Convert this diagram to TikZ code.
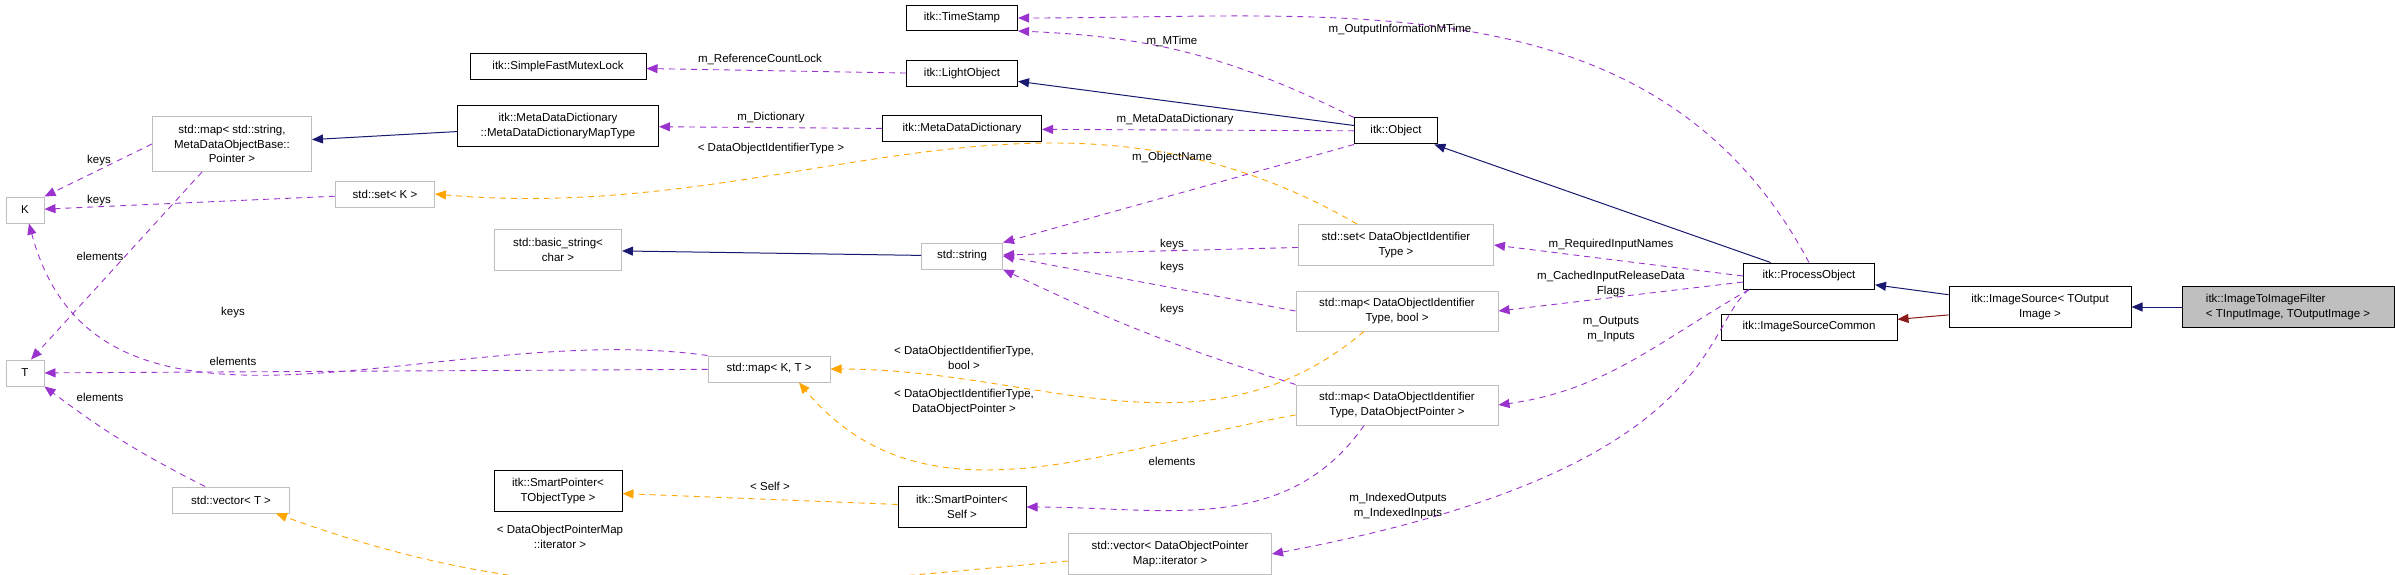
\documentclass[tikz,border=0pt]{standalone}
\usepackage{fontspec}
\setmainfont{Liberation Sans}
\usepackage{tikz}
\usetikzlibrary{arrows.meta,shapes}
\definecolor{navy}{HTML}{191970}
\definecolor{purp}{HTML}{9A32CD}
\definecolor{orng}{HTML}{FFA500}
\definecolor{dred}{HTML}{8B1A1A}
\definecolor{gbord}{HTML}{BFBFBF}
\tikzstyle{cls}=[node font=\fontsize{11.5}{14.5}\selectfont, rectangle, draw=black, line width=1pt, fill=white, inner sep=1pt, align=center]
\tikzstyle{ext}=[cls, draw=gbord]
\tikzstyle{rel}=[draw=purp, line width=0.9pt, dash pattern=on 6pt off 5pt, -{Triangle[length=11pt,width=9pt]}]
\tikzstyle{tmpl}=[rel, draw=orng, -{Triangle[length=11pt,width=9pt,fill=orng]}]
\tikzstyle{inh}=[draw=navy, line width=1pt, -{Triangle[length=11pt,width=9pt,fill=navy]}]
\tikzstyle{use}=[draw=dred, line width=1pt, -{Triangle[length=11pt,width=9pt,fill=dred]}]
\tikzstyle{note}=[draw=none, align=center, node font=\fontsize{11.5}{14.5}\selectfont, inner sep=0pt]

\begin{document}
\begin{tikzpicture}[x=1pt, y=1pt]
		\useasboundingbox (0,0) rectangle (2395,-575);
		% Documented classes
		\foreach \x/\y/\w/\h/\name/\txt in {
			962/18/111/25/ts/{itk::TimeStamp}, 962/74/111/26/lo/{itk::LightObject},
			558/67/176/26/sfml/{itk::SimpleFastMutexLock}, 962/129/159/26/mdd/{itk::MetaDataDictionary},
			558/126/201/41/mt/{itk::MetaDataDictionary\\::MetaDataDictionaryMapType},
			1396/131/83/26/obj/{itk::Object}, 558/491/128/41/sptt/{itk::SmartPointer<\\TObjectType >},
			962/507/128/41/spself/{itk::SmartPointer<\\Self >}, 1809/276/131/26/po/{itk::ProcessObject},
			1809/327/176/26/isc/{itk::ImageSourceCommon}, 2040/307/182/41/is/{itk::ImageSource< TOutput\\Image >}}
		\node[cls, minimum width=\w, minimum height=\h] (\name) at (\x,-\y) {\txt};
		
		\node[cls, fill=gbord, minimum width=212, minimum height=41, align=left] (itif) at (2288,-307)
			{itk::ImageToImageFilter\\< TInputImage, TOutputImage >};
		
		% Undocumented types
		\foreach \x/\y/\w/\h/\name/\txt in {
			232/144/159/55/mapstr/{std::map< std::string,\\MetaDataObjectBase::\\Pointer >},
			25/210/38/26/K/{K}, 385/194/99/26/setK/{std::set< K >}, 558/250/127/41/bstr/{std::basic\_string<\\char >},
			962/256/81/26/str/{std::string}, 1396/245/195/41/setdoi/{std::set< DataObjectIdentifier\\Type >},
			1397/311/202/40/mapbool/{std::map< DataObjectIdentifier\\Type, bool >},
			1397/405/202/40/mapdop/{std::map< DataObjectIdentifier\\Type, DataObjectPointer >},
			25/373/38/26/T/{T}, 769/369/122/26/mapkt/{std::map< K, T >}, 231/500/117/26/vecT/{std::vector< T >},
			1170/554/203/41/vecdop/{std::vector< DataObjectPointer\\Map::iterator >}}
		\node[ext, minimum width=\w, minimum height=\h] (\name) at (\x,-\y) {\txt};
		
		% Inheritance and usage
		\foreach \source/\dest in {
			mt/mapstr, obj/lo, str/bstr, po/obj, is/po, itif/is}
		\path[inh] (\source) -- (\dest);
		\path[use] (is) -- (isc);
		
		% Member relations
		\draw[rel] (obj.north west) to[bend right=12] (ts.south east);
		\draw[rel] (po.north) to[out=118,in=0] (ts.east);
		\draw[rel] (lo) -- (sfml);
		\draw[rel] (obj) -- (mdd);
		\draw[rel] (mdd) -- (mt);
		\draw[rel] (obj.south west) -- (str.north east);
		\draw[rel] (setdoi) -- (str);
		\draw[rel] (mapbool.west) -- (str.east);
		\draw[rel] (mapdop.north west) to[bend left=4] (str.south east);
		\draw[rel] (po.west) -- (setdoi.east);
		\draw[rel] ([yshift=-6]po.west) -- (mapbool.east);
		\draw[rel] ([xshift=6]po.south west) to[out=-150,in=8] (mapdop.east);
		\draw[rel] ([xshift=6]po.south west) .. controls (1700,-330) and (1720,-470) .. (vecdop.east);
		\draw[rel] ([xshift=-33]mapdop.south) to[out=-125,in=0] (spself.east);
		\draw[rel] (mapstr.west) -- (K.north east);
		\draw[rel] (setK) -- (K);
		\draw[rel] ([xshift=-30]mapstr.south) -- ([xshift=6]T.north);
		\draw[rel] (mapkt.north west) to[out=172,in=-75] ([xshift=4]K.south);
		\draw[rel] (mapkt) -- (T);
		\draw[rel] ([xshift=-26]vecT.north) to[bend left=5] (T.south east);
		
		% Template instances
		\draw[tmpl] ([xshift=-39]setdoi.north) to[out=150,in=-5] (setK.east);
		\draw[tmpl] ([xshift=-33]mapbool.south) to[out=-140,in=0] (mapkt.east);
		\draw[tmpl] ([yshift=-10]mapdop.west) to[out=190,in=-50] ([xshift=30]mapkt.south);
		\draw[tmpl] (spself) -- (sptt);
		\draw[tmpl] ([yshift=-7]vecdop.west) to[out=185,in=-20] ([xshift=-14]vecT.south east);
		
		% Edge labels
		\foreach \x/\y/\name/\txt in {
			1172/41/lMTime/{m\_MTime}, 1400/30/lOutMTime/{m\_OutputInformationMTime},
			760/59/lRefLock/{m\_ReferenceCountLock}, 1175/120/lMetaDict/{m\_MetaDataDictionary},
			771/118/lDict/{m\_Dictionary}, 1172/158/lObjName/{m\_ObjectName},
			1172/245/lKeysA/{keys}, 1172/268/lKeysB/{keys}, 1172/310/lKeysC/{keys},
			1611/245/lReqNames/{m\_RequiredInputNames}, 1611/284/lCached/{m\_CachedInputReleaseData\\Flags},
			1611/329/lOutputs/{m\_Outputs\\m\_Inputs}, 1398/506/lIndexed/{m\_IndexedOutputs\\m\_IndexedInputs},
			1172/461/lElemSP/{elements}, 99/161/lKeysD/{keys}, 99/201/lKeysE/{keys},
			100/256/lElemA/{elements}, 233/313/lKeysF/{keys}, 233/361/lElemB/{elements}, 100/397/lElemC/{elements},
			771/149/lDOIT/{< DataObjectIdentifierType >}, 964/358/lDOITbool/{< DataObjectIdentifierType,\\bool >},
			964/402/lDOITdop/{< DataObjectIdentifierType,\\DataObjectPointer >}, 770/486/lSelf/{< Self >},
			560/537/lIter/{< DataObjectPointerMap\\::iterator >}}
		\node[note] (\name) at (\x,-\y) {\txt};
		\end{tikzpicture}
\end{document}
